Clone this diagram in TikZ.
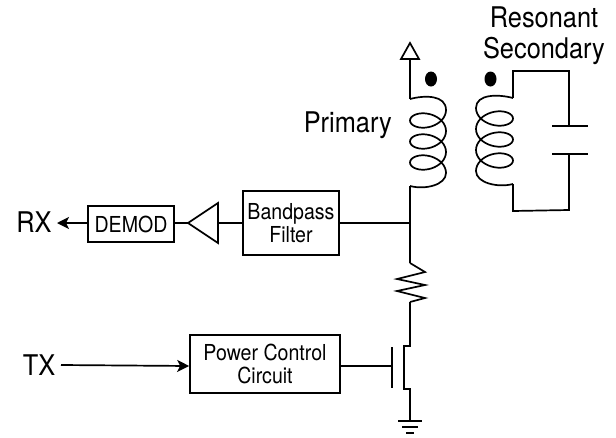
\documentclass[tikz,border=0pt]{standalone}
\usepackage{fontspec}
\setmainfont[FakeStretch=0.89]{TeX Gyre Heros}
\usetikzlibrary{arrows.meta}
\tikzset{
  wire/.style={line width=1.7pt,line join=miter},
  blockbox/.style={draw,line width=1.7pt,inner sep=0pt,align=center,font=\fontsize{22}{23}\selectfont},
  biglabel/.style={inner sep=0pt,align=center,font=\fontsize{28.5}{31}\selectfont},
  sigarrow/.style={wire,-{Stealth[length=12pt,width=12pt,inset=3pt]}}
}
\begin{document}
\begin{tikzpicture}[x=1pt,y=-1pt]
\useasboundingbox (0,0) rectangle (616,437);
% blocks
\node[blockbox,minimum width=86pt,minimum height=36pt] (demod) at (131,224) {DEMOD};
\node[blockbox,minimum width=96pt,minimum height=64pt] (bpf) at (291,223) {Bandpass\\Filter};
\node[blockbox,minimum width=150pt,minimum height=58pt] (pwr) at (265,364) {Power Control\\Circuit};
% labels
\node[biglabel] (rx) at (34,222) {RX};
\node[biglabel] (tx) at (39,365) {TX};
\node[biglabel,anchor=east] (prim) at (392,125) {Primary};
\node[biglabel] (sec) at (544,35.5) {Resonant\\Secondary};
% key points
\coordinate (antbase) at (410,59);
\coordinate (anttip) at (410,43);
\coordinate (ptop) at (410,99);
\coordinate (pbot) at (410,186);
\coordinate (junction) at (410,223);
\coordinate (rtop) at (410,263);
\coordinate (rbot) at (410,302);
\coordinate (ampin) at (218,223);
\coordinate (amptip) at (188,223);
\coordinate (chtop) at (410,346);
\coordinate (chbot) at (410,389);
\coordinate (gate) at (392,366);
\coordinate (gnd) at (410,421);
\coordinate (stop) at (513,98);
\coordinate (sbot) at (513,184);
\coordinate (captop) at (569,126);
\coordinate (capbot) at (569,154);
% antenna
\draw[wire] (ptop) -- (antbase);
\draw[wire] (401,59) -- (anttip) -- (419,59) -- cycle;
% dots
\fill (431,79) ellipse (6pt and 7.5pt);
\fill (490.5,79) ellipse (6pt and 7.5pt);
% primary coil
\draw[wire] (ptop) .. controls (425,95) and (446,95) .. (446,110)
  -- plot[smooth,domain=0:1080,samples=109] ({428+18*cos(\x)},{110+\x/360*21+12*sin(\x)})
  .. controls (446,185) and (425,190) .. (pbot);
% secondary coil
\draw[wire] (stop) .. controls (498,94) and (476,94) .. (476,108)
  -- plot[smooth,domain=0:1080,samples=109] ({494.5-18.5*cos(\x)},{108+\x/360*21+12*sin(\x)})
  .. controls (476,183) and (498,188) .. (sbot);
% secondary tank
\draw[wire] (stop) -- (513,71) -| (captop);
\draw[wire] (552,126) -- (588,126);
\draw[wire] (552,154) -- (588,154);
\draw[wire] (capbot) -- (569,210) -- (513,211) -- (sbot);
% main line
\draw[wire] (pbot) -- (junction) -- (rtop);
\draw[wire] (bpf.east |- junction) -- (junction);
\draw[wire] (rtop) -- (425,272) -- (397,279) -- (425,285) -- (397,291) -- (425,298) -- (rbot);
\draw[wire] (rbot) -- (chtop) -- (404,346) -- (404,389) -- (chbot) -- (gnd);
\draw[wire] (392,347) -- (392,388);
\draw[wire] (pwr.east |- gate) -- (gate);
% ground
\draw[wire] (398,421) -- (422,421);
\draw[wire] (402,427) -- (418,427);
\draw[wire] (406,433) -- (414,433);
% amplifier
\draw[wire] (amptip) -- (218,203) -- (218,243) -- cycle;
\draw[wire] (bpf.west |- ampin) -- (ampin);
\draw[wire] (demod.east |- amptip) -- (amptip);
% signal arrows
\draw[sigarrow] (demod.west |- 0,223) -- (57,223);
\draw[sigarrow] (61,365) -- (pwr.west |- 0,366);
\end{tikzpicture}
\end{document}
